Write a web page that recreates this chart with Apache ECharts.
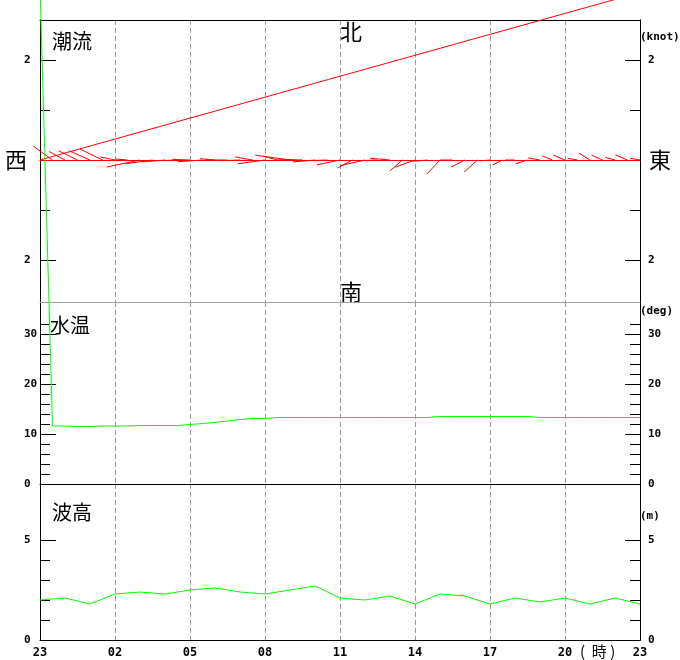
<!DOCTYPE html>
<html><head><meta charset="utf-8">
<script src="https://cdn.jsdelivr.net/npm/echarts@6/dist/echarts.min.js"></script>
<style>html,body{margin:0;padding:0;background:#fff}#c{width:680px;height:660px}</style>
</head><body><div id="c"></div>
<script>
// x axis: hours since 23:00 (0..24)
const xTickValues = [0, 3, 6, 9, 12, 15, 18, 21, 24];
const xTickLabels = ['23', '02', '05', '08', '11', '14', '17', '20', '23'];

// current (half-hourly): speed in knots, direction (towards, deg clockwise from north)
const currentSpeed = [99.9, 0.48, 0.36, 0.42, 0.45, 0.5, 0.3, 0.25, 0.68, 0.55, 0.45, 0.4, 0.35, 0.5, 0.3, 0.45, 0.4,
  0.35, 0.55, 0.3, 0.7, 0.5, 0.45, 0.3, 0.47, 0.34, 0.51, 0.3, 0.4, 0.33, 0.42, 0.3, 0.38, 0.25, 0.31, 0.36, 0.2,
  0.22, 0.2, 0.25, 0.24, 0.22, 0.26, 0.2, 0.26, 0.24, 0.2, 0.26, 0.2];
const currentDir = [74.4, 306, 298, 296, 294, 296, 282, 275, 258, 262, 265, 268, 272, 266, 275, 270, 268,
  280, 262, 285, 278, 272, 265, 268, 258, 242, 257, 268, 275, 229, 250, 265, 223, 270, 243, 228, 265,
  243, 270, 252, 280, 292, 293, 280, 302, 294, 285, 293, 280];

// water temperature (half-hourly, deg)
const waterTemp = [99.9, 11.6, 11.6, 11.5, 11.5, 11.6, 11.6, 11.6, 11.7, 11.7, 11.7, 11.7, 11.9, 12.1, 12.3, 12.6, 12.9,
  13.1, 13.1, 13.3, 13.3, 13.3, 13.3, 13.3, 13.3, 13.3, 13.3, 13.3, 13.3, 13.3, 13.3, 13.3, 13.5, 13.5, 13.5, 13.5,
  13.5, 13.5, 13.5, 13.5, 13.3, 13.3, 13.3, 13.3, 13.3, 13.3, 13.3, 13.3, 13.3];

// wave height (hourly, m)
const waveHeight = [2.0, 2.1, 1.8, 2.3, 2.4, 2.3, 2.5, 2.6, 2.4, 2.3, 2.5, 2.7, 2.1, 2.0, 2.2, 1.8, 2.3, 2.2, 1.8,
  2.1, 1.9, 2.1, 1.8, 2.1, 1.8];

// y axis ticks
const curMajor = [-2, 2], curMinor = [-1, 1];
const tempMajor = [0, 10, 20, 30], tempMinor = [2, 4, 6, 8, 12, 14, 16, 18, 22, 24, 26, 28, 32];
const waveMajor = [0, 5], waveMinor = [1, 2, 3, 4];

const halfHour = currentSpeed.map((_, i) => i * 0.5);
const currentData = currentSpeed.map((s, i) => [halfHour[i], s, currentDir[i]]);
const tempData = waterTemp.map((v, i) => [halfHour[i], v]);
const waveData = waveHeight.map((v, i) => [i, v]);

const monoFont = { fontFamily: 'DejaVu Sans Mono', fontWeight: 'bold', fontSize: 11, color: '#000' };
const cjk = 'Noto Sans CJK JP';

function yAxes(grid, min, max, major, minor, fmt) {
  const base = { type: 'value', gridIndex: grid, min: min, max: max, splitLine: { show: false } };
  const mk = (pos, vals, len, labels) => Object.assign({}, base, {
    position: pos,
    axisLine: { show: true, lineStyle: { color: '#000', width: 1 } },
    axisTick: { show: true, inside: true, length: len, customValues: vals, lineStyle: { color: '#000', width: 1 } },
    axisLabel: labels ? Object.assign({ show: true, customValues: vals, formatter: fmt, align: 'left',
      margin: pos === 'left' ? 16 : 8 }, monoFont) : { show: false }
  });
  return [mk('left', major, 16, true), mk('left', minor, 10, false), mk('right', major, 15, true), mk('right', minor, 10, false)];
}

const dashed = { show: true, lineStyle: { color: '#999', type: [5, 3], width: 1 }, showMinLine: false, showMaxLine: false };
const xBase = { type: 'value', min: 0, max: 24, interval: 3, axisTick: { show: false }, axisLabel: { show: false } };

const chart = echarts.init(document.getElementById('c'), null, { renderer: 'canvas' });
chart.setOption({
  animation: false,
  backgroundColor: '#fff',
  grid: [
    { left: 40, right: 40, top: 20, height: 282 },
    { left: 40, right: 40, top: 302, height: 182 },
    { left: 40, right: 40, top: 484, height: 156 }
  ],
  xAxis: [
    Object.assign({}, xBase, { gridIndex: 0, position: 'bottom', axisLine: { show: true, onZero: true, lineStyle: { color: '#ff0000' } }, splitLine: dashed }),
    Object.assign({}, xBase, { gridIndex: 0, position: 'top', axisLine: { show: true, onZero: false, lineStyle: { color: '#000' } }, splitLine: { show: false } }),
    Object.assign({}, xBase, { gridIndex: 1, position: 'top', axisLine: { show: true, onZero: false, lineStyle: { color: '#a0a0a0' } }, splitLine: { show: false } }),
    Object.assign({}, xBase, { gridIndex: 1, position: 'bottom', axisLine: { show: true, onZero: false, lineStyle: { color: '#000' } }, splitLine: dashed }),
    Object.assign({}, xBase, { gridIndex: 2, position: 'bottom', axisLine: { show: true, onZero: false, lineStyle: { color: '#000' } }, splitLine: dashed,
      axisLabel: Object.assign({ show: true, margin: 7, formatter: v => xTickLabels[xTickValues.indexOf(v)] }, monoFont, { fontSize: 12 }) })
  ],
  yAxis: [].concat(
    yAxes(0, -2.84, 2.8, curMajor, curMinor, v => String(Math.abs(v))),
    yAxes(1, 0, 36.4, tempMajor, tempMinor, v => String(v)),
    yAxes(2, 0, 7.8, waveMajor, waveMinor, v => String(v))
  ),
  series: [
    {
      type: 'custom', xAxisIndex: 0, yAxisIndex: 0, clip: false, data: currentData,
      renderItem: function (params, api) {
        const t = api.value(0), sp = api.value(1), d = api.value(2) * Math.PI / 180;
        const u = sp * Math.sin(d), v = sp * Math.cos(d);
        const p0 = api.coord([t, 0]);
        const pxPerKnot = api.size([0, 1])[1];
        return { type: 'line', silent: true,
          shape: { x1: p0[0], y1: p0[1], x2: p0[0] + u * pxPerKnot, y2: p0[1] - v * pxPerKnot },
          style: { stroke: '#ff0000', lineWidth: 1 } };
      }
    },
    { type: 'line', xAxisIndex: 3, yAxisIndex: 4, data: tempData, clip: false, symbol: 'none', silent: true,
      lineStyle: { color: '#00ff00', width: 1 } },
    { type: 'line', xAxisIndex: 4, yAxisIndex: 8, data: waveData, symbol: 'none', silent: true,
      lineStyle: { color: '#00ff00', width: 1 } }
  ],
  graphic: [
    { type: 'text', left: 52, top: 31, style: { text: '潮流', font: '20px "' + cjk + '"', fill: '#000' } },
    { type: 'text', left: 50, top: 315, style: { text: '水温', font: '20px "' + cjk + '"', fill: '#000' } },
    { type: 'text', left: 52, top: 502, style: { text: '波高', font: '20px "' + cjk + '"', fill: '#000' } },
    { type: 'text', x: 351, y: 32, style: { text: '北', font: '22px "' + cjk + '"', fill: '#000', align: 'center', verticalAlign: 'middle' } },
    { type: 'text', x: 351, y: 292, style: { text: '南', font: '22px "' + cjk + '"', fill: '#000', align: 'center', verticalAlign: 'middle' } },
    { type: 'text', x: 16, y: 160, style: { text: '西', font: '22px "' + cjk + '"', fill: '#000', align: 'center', verticalAlign: 'middle' } },
    { type: 'text', x: 660, y: 160, style: { text: '東', font: '22px "' + cjk + '"', fill: '#000', align: 'center', verticalAlign: 'middle' } },
    { type: 'text', x: 640, y: 37, style: { text: '(knot)', font: 'bold 11px "DejaVu Sans Mono"', fill: '#000', verticalAlign: 'middle' } },
    { type: 'text', x: 640, y: 311, style: { text: '(deg)', font: 'bold 11px "DejaVu Sans Mono"', fill: '#000', verticalAlign: 'middle' } },
    { type: 'text', x: 640, y: 516, style: { text: '(m)', font: 'bold 11px "DejaVu Sans Mono"', fill: '#000', verticalAlign: 'middle' } },
    { type: 'text', x: 580, y: 651, style: { text: '(  時 )', font: '15px "' + cjk + '"', fill: '#000', verticalAlign: 'middle' } }
  ]
});
</script>
</body></html>
